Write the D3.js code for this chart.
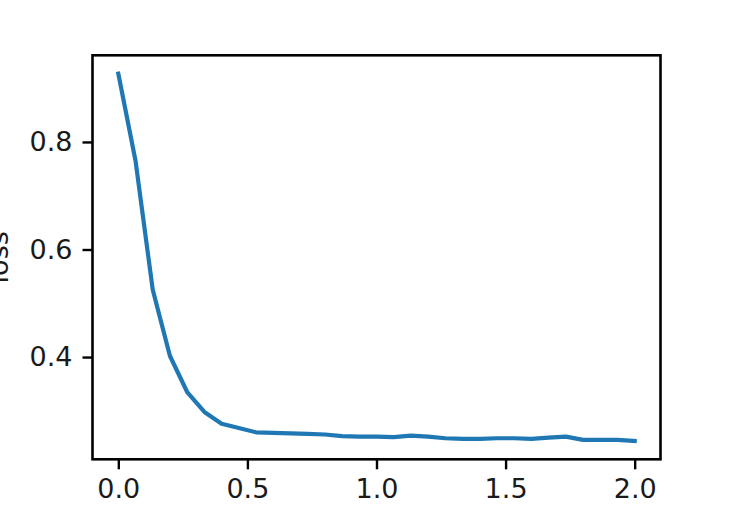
<!DOCTYPE html>
<html>
<head>
<meta charset="utf-8">
<script src="https://cdn.jsdelivr.net/npm/d3@7"></script>
<style>
  html, body { margin: 0; padding: 0; background: #fff; }
  svg { display: block; }
</style>
</head>
<body>
<svg id="chart" width="731" height="515"></svg>
<script>
// ---- data ----
const epochs = d3.range(0, 31).map(i => i * 2 / 30); // x positions (31 evaluations over 0..2)
const loss = [
  0.927, 0.765, 0.525, 0.402, 0.335, 0.298, 0.276, 0.268, 0.260, 0.259,
  0.258, 0.257, 0.256, 0.253, 0.252, 0.252, 0.251, 0.254, 0.252, 0.249,
  0.248, 0.248, 0.249, 0.249, 0.248, 0.250, 0.252, 0.246, 0.246, 0.246,
  0.244
];
const xTicks = [0.0, 0.5, 1.0, 1.5, 2.0];
const yTicks = [0.4, 0.6, 0.8];
const yLabel = "loss";

// ---- layout ----
const W = 731, H = 515;
const L = 92.5, R = 660.5, T = 55.3, B = 459.3;
const font = "DejaVu Sans, sans-serif";
const fs = 27;

const svg = d3.select("#chart");
svg.append("rect").attr("width", W).attr("height", H).attr("fill", "#fff");

const xPad = 0.05 * (d3.max(epochs) - d3.min(epochs));
const x = d3.scaleLinear()
  .domain([d3.min(epochs) - xPad, d3.max(epochs) + xPad])
  .range([L, R]);
const yExt = d3.extent(loss);
const yPad = 0.05 * (yExt[1] - yExt[0]);
const y = d3.scaleLinear()
  .domain([yExt[0] - yPad, yExt[1] + yPad])
  .range([B, T]);

// line
const line = d3.line().x((d, i) => x(epochs[i])).y(d => y(d));
svg.append("path")
  .datum(loss)
  .attr("d", line)
  .attr("fill", "none")
  .attr("stroke", "#1f77b4")
  .attr("stroke-width", 4.2)
  .attr("stroke-linejoin", "round")
  .attr("stroke-linecap", "square");

// axes
const xAxis = d3.axisBottom(x).tickValues(xTicks).tickFormat(d3.format(".1f"))
  .tickSizeInner(10).tickSizeOuter(0).tickPadding(10);
const gx = svg.append("g").attr("transform", `translate(0,${B})`).call(xAxis);
const yAxis = d3.axisLeft(y).tickValues(yTicks).tickFormat(d3.format(".1f"))
  .tickSizeInner(10).tickSizeOuter(0).tickPadding(10);
const gy = svg.append("g").attr("transform", `translate(${L},0)`).call(yAxis);

[gx, gy].forEach(g => {
  g.select(".domain").remove();
  g.selectAll(".tick line").attr("stroke", "#000").attr("stroke-width", 2.4);
  g.selectAll(".tick text").attr("fill", "#1a1a1a")
    .style("font-family", font).style("font-size", fs + "px");
});
gx.selectAll(".tick text").attr("dy", "0.71em");

// spines (box)
svg.append("rect")
  .attr("x", L).attr("y", T)
  .attr("width", R - L).attr("height", B - T)
  .attr("fill", "none").attr("stroke", "#000").attr("stroke-width", 2.6);

// y label
svg.append("text")
  .attr("transform", `translate(8,${(T + B) / 2}) rotate(-90)`)
  .attr("text-anchor", "middle")
  .attr("fill", "#1a1a1a")
  .style("font-family", font).style("font-size", fs + "px")
  .text(yLabel);
</script>
</body>
</html>
